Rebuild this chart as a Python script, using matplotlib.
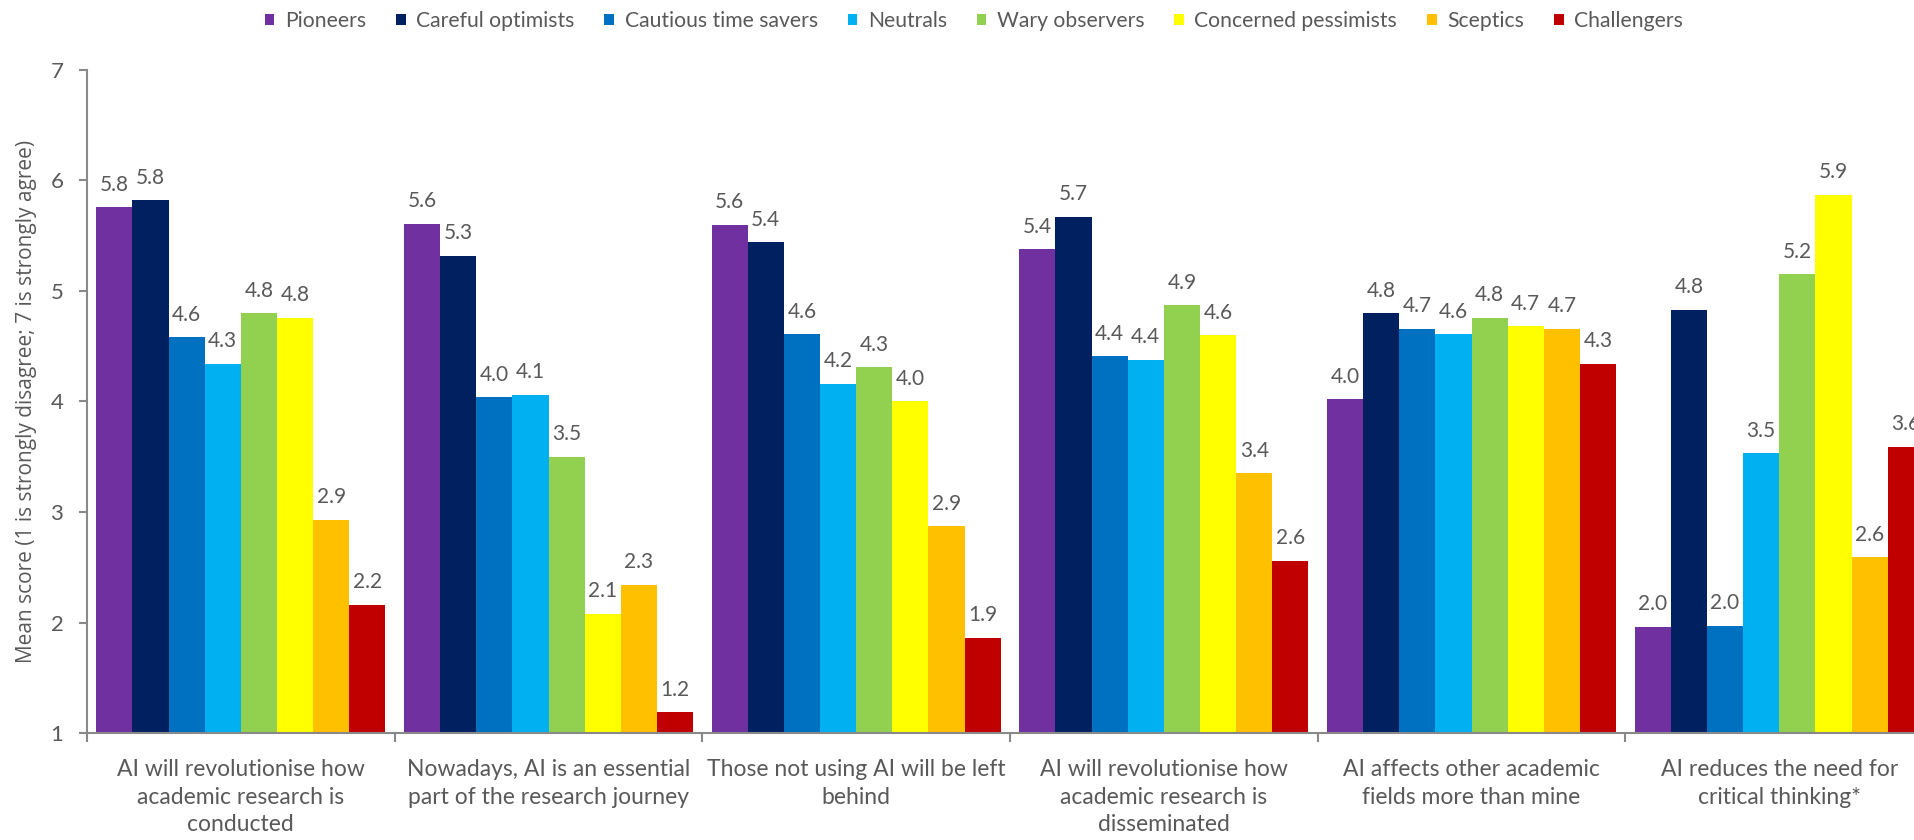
import matplotlib
matplotlib.use("Agg")
import matplotlib.pyplot as plt
import numpy as np

# Survey statements (x-axis categories)
statements = [
    "AI will revolutionise how\nacademic research is\nconducted",
    "Nowadays, AI is an essential\npart of the research journey",
    "Those not using AI will be left\nbehind",
    "AI will revolutionise how\nacademic research is\ndisseminated",
    "AI affects other academic\nfields more than mine",
    "AI reduces the need for\ncritical thinking*",
]

# Researcher segments (series)
segments = [
    "Pioneers", "Careful optimists", "Cautious time savers", "Neutrals",
    "Wary observers", "Concerned pessimists", "Sceptics", "Challengers",
]

# Mean agreement score per segment, one value per statement
pioneers             = [5.76, 5.61, 5.60, 5.38, 4.02, 1.96]
careful_optimists    = [5.82, 5.32, 5.44, 5.67, 4.80, 4.83]
cautious_time_savers = [4.58, 4.04, 4.61, 4.41, 4.66, 1.97]
neutrals             = [4.34, 4.06, 4.16, 4.38, 4.61, 3.53]
wary_observers       = [4.80, 3.50, 4.31, 4.87, 4.76, 5.15]
concerned_pessimists = [4.76, 2.08, 4.00, 4.60, 4.68, 5.87]
sceptics             = [2.93, 2.34, 2.87, 3.35, 4.66, 2.59]
challengers          = [2.16, 1.19, 1.86, 2.56, 4.34, 3.59]

series = [pioneers, careful_optimists, cautious_time_savers, neutrals,
          wary_observers, concerned_pessimists, sceptics, challengers]

colors = ["#7030A0", "#002060", "#0070C0", "#00B0F0",
          "#92D050", "#FFFF00", "#FFC000", "#C00000"]

y_ticks = [1, 2, 3, 4, 5, 6, 7]
y_label = "Mean score (1 is strongly disagree; 7 is strongly agree)"

TEXT = "#595959"
AXIS = "#898989"
FONT = ["Lato", "DejaVu Sans"]

plt.rcParams["font.family"] = FONT

fig = plt.figure(figsize=(19.15, 8.40), dpi=100)
ax = fig.add_axes([0.04543, 0.12738, 0.9640, 0.78929])

n_groups = len(statements)
n_series = len(series)
span = 0.94
w = span / n_series
x = np.arange(n_groups)

for k, (vals, col, name) in enumerate(zip(series, colors, segments)):
    pos = x - span / 2 + w * (k + 0.5)
    bars = ax.bar(pos, vals, width=w, bottom=0, color=col, label=name,
                  linewidth=0, zorder=2)
    ax.bar_label(bars, labels=[f"{v:.1f}" for v in vals], padding=9,
                 fontsize=15, color=TEXT, clip_on=False)

ax.set_ylim(1, 7)
ax.set_xlim(-0.5, n_groups - 0.5)
ax.set_yticks(y_ticks)
ax.set_yticklabels([str(t) for t in y_ticks])

ax.set_xticks(x)
ax.set_xticklabels(statements, fontsize=16.5, color=TEXT, linespacing=1.38)
ax.set_xticks(np.arange(n_groups + 1) - 0.5, minor=True)
ax.tick_params(axis="x", which="major", length=0, pad=19)
ax.tick_params(axis="x", which="minor", length=6.5, width=1.5,
               color=AXIS, direction="out")
ax.tick_params(axis="y", which="major", length=6, width=1.5, color=AXIS,
               direction="out", pad=11, labelsize=16, labelcolor=TEXT)

for side in ("top", "right"):
    ax.spines[side].set_visible(False)
for side in ("left", "bottom"):
    ax.spines[side].set_color(AXIS)
    ax.spines[side].set_linewidth(1.5)

ax.set_ylabel(y_label, family="Open Sans", fontsize=15, color=TEXT)
ax.yaxis.set_label_coords(-0.0271, 0.5)

leg = fig.legend(loc="center", bbox_to_anchor=(0.5086, 0.975), ncol=8,
                 frameon=False, fontsize=15.2, handlelength=0.45,
                 handleheight=0.45, handletextpad=0.5, columnspacing=1.42,
                 labelcolor=TEXT)

fig.savefig("out.png", dpi=100)
